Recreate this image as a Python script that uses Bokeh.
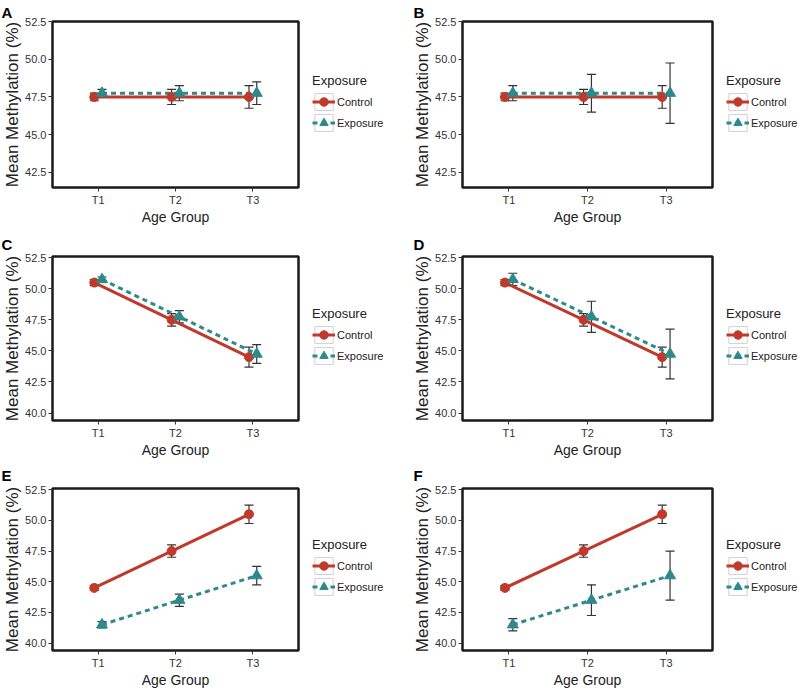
from bokeh.plotting import figure
from bokeh.models import (FactorRange, Range1d, FixedTicker, PrintfTickFormatter,
                          ColumnDataSource, Whisker, TeeHead, Legend, LegendItem)
from bokeh.transform import dodge
from bokeh.layouts import column, row
from bokeh.embed import file_html
from bokeh.resources import INLINE

# ---------------- data ----------------
age_groups = ["T1", "T2", "T3"]
series_names = ["Control", "Exposure"]
legend_title = "Exposure"

a_control = [47.5, 47.5, 47.5]
a_control_err = [0.25, 0.5, 0.75]
a_exposure = [47.75, 47.75, 47.75]
a_exposure_err = [0.25, 0.5, 0.75]

b_control = [47.5, 47.5, 47.5]
b_control_err = [0.25, 0.5, 0.75]
b_exposure = [47.75, 47.75, 47.75]
b_exposure_err = [0.5, 1.25, 2.0]

c_control = [50.5, 47.5, 44.5]
c_control_err = [0.25, 0.5, 0.8]
c_exposure = [50.75, 47.75, 44.75]
c_exposure_err = [0.2, 0.5, 0.75]

d_control = [50.5, 47.5, 44.5]
d_control_err = [0.25, 0.5, 0.8]
d_exposure = [50.75, 47.75, 44.75]
d_exposure_err = [0.5, 1.25, 2.0]

e_control = [44.5, 47.5, 50.5]
e_control_err = [0.2, 0.5, 0.75]
e_exposure = [41.5, 43.5, 45.5]
e_exposure_err = [0.25, 0.5, 0.75]

f_control = [44.5, 47.5, 50.5]
f_control_err = [0.2, 0.5, 0.75]
f_exposure = [41.5, 43.5, 45.5]
f_exposure_err = [0.5, 1.25, 2.0]

y_ticks_top = [42.5, 45.0, 47.5, 50.0, 52.5]
y_ticks_low = [40.0, 42.5, 45.0, 47.5, 50.0, 52.5]
y_range_top = (41.5, 52.5)
y_range_low = (39.4, 52.6)

x_label = "Age Group"
y_label = "Mean Methylation (%)"

# ---------------- style ----------------
RED = "#C0392B"
TEAL = "#2E8A8A"
ERR = "#333333"
FONT = "Liberation Sans"
DODGE = 0.05


def series_glyphs(p, src, xc, xe, visible=True, msize=(9, 11)):
    box_c = p.rect(x=xc, y="control", width=1, height=1, width_units="screen",
                   height_units="screen", source=src, fill_color="white",
                   line_color="#d0d0d0", line_width=1, visible=False)
    box_e = p.rect(x=xe, y="exposure", width=1, height=1, width_units="screen",
                   height_units="screen", source=src, fill_color="white",
                   line_color="#d0d0d0", line_width=1, visible=False)
    lc = p.line(x=xc, y="control", source=src, line_color=RED, line_width=3,
                visible=visible)
    le = p.line(x=xe, y="exposure", source=src, line_color=TEAL, line_width=3,
                line_dash="5 4", visible=visible)
    pc = p.scatter(x=xc, y="control", source=src, marker="circle", size=msize[0],
                   fill_color=RED, line_color=RED, visible=visible)
    pe = p.scatter(x=xe, y="exposure", source=src, marker="triangle", size=msize[1],
                   fill_color=TEAL, line_color=TEAL, visible=visible)
    return (box_c, lc, pc), (box_e, le, pe)


def make_panel(letter, control, control_err, exposure, exposure_err, yr, yticks,
               total_w, height, left, fw, top, bottom, letter_offset, letter_standoff):
    fh = height - top - bottom
    gap = 14
    main_w = left + fw + gap
    leg_w = total_w - main_w

    p = figure(width=main_w, height=height,
               x_range=FactorRange(factors=age_groups, range_padding=0.09,
                                   range_padding_units="absolute"),
               y_range=Range1d(yr[0], yr[1]),
               output_backend="svg", toolbar_location=None,
               min_border_left=left, min_border_right=gap,
               min_border_top=top, min_border_bottom=bottom)
    p.background_fill_color = "white"
    p.border_fill_color = "white"
    p.outline_line_color = "#1a1a1a"
    p.outline_line_width = 2.5
    p.xgrid.visible = False
    p.ygrid.visible = False

    # panel letter
    p.title.text = letter
    p.title.text_font = FONT
    p.title.text_font_style = "bold"
    p.title.text_font_size = "15px"
    p.title.text_color = "black"
    p.title.align = "left"
    p.title.offset = letter_offset
    p.title.standoff = letter_standoff

    src = ColumnDataSource(dict(
        x=age_groups,
        control=control,
        c_lo=[m - e for m, e in zip(control, control_err)],
        c_hi=[m + e for m, e in zip(control, control_err)],
        exposure=exposure,
        e_lo=[m - e for m, e in zip(exposure, exposure_err)],
        e_hi=[m + e for m, e in zip(exposure, exposure_err)],
    ))
    xc = dodge("x", -DODGE, range=p.x_range)
    xe = dodge("x", DODGE, range=p.x_range)

    for xs, lo, hi in ((xc, "c_lo", "c_hi"), (xe, "e_lo", "e_hi")):
        w = Whisker(source=src, base=xs, lower=lo, upper=hi, dimension="height",
                    line_color=ERR, line_width=1.2, level="underlay",
                    upper_head=TeeHead(size=9, line_color=ERR, line_width=1.2),
                    lower_head=TeeHead(size=9, line_color=ERR, line_width=1.2))
        p.add_layout(w)

    series_glyphs(p, src, xc, xe, visible=True)

    for ax in (p.xaxis[0], p.yaxis[0]):
        ax.axis_line_color = None
        ax.major_tick_line_color = "#333333"
        ax.major_tick_line_width = 1
        ax.major_tick_out = 4
        ax.major_tick_in = 0
        ax.minor_tick_line_color = None
        ax.major_label_text_font = FONT
        ax.major_label_text_font_size = "11px"
        ax.major_label_text_color = "#333333"
        ax.major_label_standoff = 2
        ax.axis_label_text_font = FONT
        ax.axis_label_text_font_style = "normal"
        ax.axis_label_text_color = "#222222"

    p.xaxis.axis_label = x_label
    p.xaxis.axis_label_text_font_size = "14px"
    p.xaxis.axis_label_standoff = 0
    p.yaxis.axis_label = y_label
    p.yaxis.axis_label_text_font_size = "17px"
    p.yaxis.axis_label_standoff = 0
    p.yaxis.ticker = FixedTicker(ticks=yticks)
    p.yaxis.formatter = PrintfTickFormatter(format="%.1f")

    # legend lives in its own narrow figure to the right of the panel
    # (its frame is aligned with the panel's frame by the row layout)
    q = figure(width=leg_w, height=height,
               x_range=FactorRange(factors=age_groups), y_range=Range1d(yr[0], yr[1]),
               x_axis_type=None, y_axis_type=None,
               output_backend="svg", toolbar_location=None, min_border=0)
    q.background_fill_color = "white"
    q.border_fill_color = "white"
    q.outline_line_color = None
    qxc = dodge("x", -DODGE, range=q.x_range)
    qxe = dodge("x", DODGE, range=q.x_range)
    rc, re_ = series_glyphs(q, src, qxc, qxe, visible=False, msize=(8, 9))
    legend = Legend(items=[LegendItem(label=series_names[0], renderers=list(rc)),
                           LegendItem(label=series_names[1], renderers=list(re_))],
                    location=(0, fh / 2 - 30),
                    title=legend_title, title_text_font=FONT, title_text_font_size="13px",
                    title_text_font_style="normal", title_text_color="#222222",
                    title_standoff=3,
                    label_text_font=FONT, label_text_font_size="11px",
                    label_text_color="#222222",
                    glyph_width=23, glyph_height=21, label_height=21, label_standoff=2,
                    spacing=0, padding=0, margin=0,
                    border_line_alpha=0, background_fill_alpha=0)
    q.add_layout(legend)
    return row(p, q)


rows_h = [230, 230, 230]
rows_top = [19, 24, 28]
rows_bottom = [43, 38, 36]
letter_standoffs = [2, 7, 9]

panels = [
    ("A", a_control, a_control_err, a_exposure, a_exposure_err, y_range_top, y_ticks_top),
    ("B", b_control, b_control_err, b_exposure, b_exposure_err, y_range_top, y_ticks_top),
    ("C", c_control, c_control_err, c_exposure, c_exposure_err, y_range_low, y_ticks_low),
    ("D", d_control, d_control_err, d_exposure, d_exposure_err, y_range_low, y_ticks_low),
    ("E", e_control, e_control_err, e_exposure, e_exposure_err, y_range_low, y_ticks_low),
    ("F", f_control, f_control_err, f_exposure, f_exposure_err, y_range_low, y_ticks_low),
]

cells = []
for i, (letter, c, ce, e, ee, yr, yt) in enumerate(panels):
    r, col = divmod(i, 2)
    if col == 0:
        left, fw, loff = 49, 249, -51
    else:
        left, fw, loff = 62, 250, -49
    cells.append(make_panel(letter, c, ce, e, ee, yr, yt, 400, rows_h[r], left, fw,
                            rows_top[r], rows_bottom[r], loff, letter_standoffs[r]))

layout = column(row(cells[0], cells[1]), row(cells[2], cells[3]), row(cells[4], cells[5]))

with open("out.html", "w") as f:
    f.write(file_html(layout, INLINE, "Mean Methylation"))
